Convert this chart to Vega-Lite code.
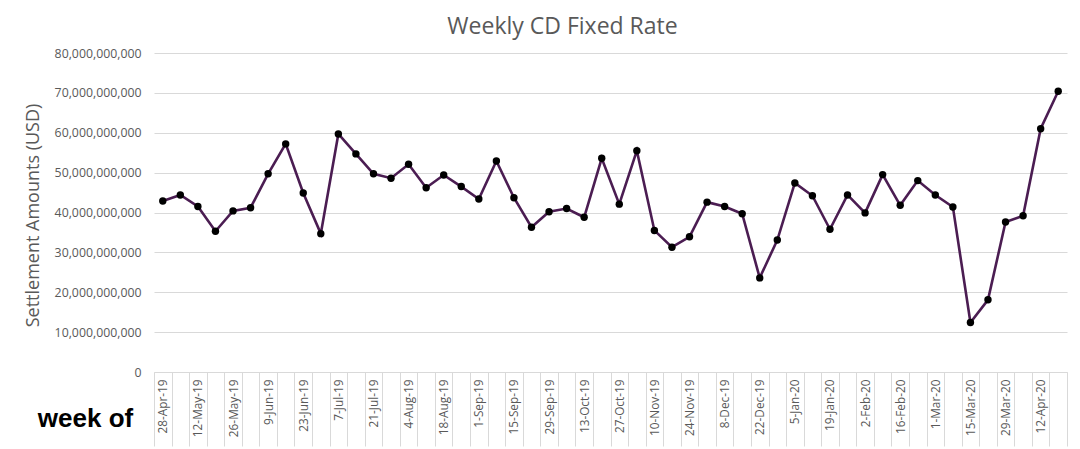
{
  "$schema": "https://vega.github.io/schema/vega-lite/v6.json",
  "width": 913,
  "height": 319,
  "autosize": {"type": "none"},
  "padding": {"left": 154, "top": 53, "right": 13, "bottom": 77},
  "background": "white",
  "title": {
    "text": "Weekly CD Fixed Rate",
    "font": "Open Sans",
    "fontSize": 23,
    "fontWeight": "normal",
    "color": "#595959",
    "frame": "group",
    "anchor": "middle",
    "dx": -48,
    "offset": 8
  },
  "data": {
    "values": [
      {"week": "28-Apr-19", "amount": 42900000000},
      {"week": "5-May-19", "amount": 44400000000},
      {"week": "12-May-19", "amount": 41500000000},
      {"week": "19-May-19", "amount": 35300000000},
      {"week": "26-May-19", "amount": 40400000000},
      {"week": "2-Jun-19", "amount": 41200000000},
      {"week": "9-Jun-19", "amount": 49700000000},
      {"week": "16-Jun-19", "amount": 57200000000},
      {"week": "23-Jun-19", "amount": 44900000000},
      {"week": "30-Jun-19", "amount": 34700000000},
      {"week": "7-Jul-19", "amount": 59700000000},
      {"week": "14-Jul-19", "amount": 54700000000},
      {"week": "21-Jul-19", "amount": 49700000000},
      {"week": "28-Jul-19", "amount": 48600000000},
      {"week": "4-Aug-19", "amount": 52100000000},
      {"week": "11-Aug-19", "amount": 46200000000},
      {"week": "18-Aug-19", "amount": 49400000000},
      {"week": "25-Aug-19", "amount": 46500000000},
      {"week": "1-Sep-19", "amount": 43400000000},
      {"week": "8-Sep-19", "amount": 52900000000},
      {"week": "15-Sep-19", "amount": 43700000000},
      {"week": "22-Sep-19", "amount": 36300000000},
      {"week": "29-Sep-19", "amount": 40200000000},
      {"week": "6-Oct-19", "amount": 41000000000},
      {"week": "13-Oct-19", "amount": 38800000000},
      {"week": "20-Oct-19", "amount": 53600000000},
      {"week": "27-Oct-19", "amount": 42100000000},
      {"week": "3-Nov-19", "amount": 55500000000},
      {"week": "10-Nov-19", "amount": 35500000000},
      {"week": "17-Nov-19", "amount": 31300000000},
      {"week": "24-Nov-19", "amount": 33900000000},
      {"week": "1-Dec-19", "amount": 42600000000},
      {"week": "8-Dec-19", "amount": 41500000000},
      {"week": "15-Dec-19", "amount": 39700000000},
      {"week": "22-Dec-19", "amount": 23600000000},
      {"week": "29-Dec-19", "amount": 33100000000},
      {"week": "5-Jan-20", "amount": 47400000000},
      {"week": "12-Jan-20", "amount": 44200000000},
      {"week": "19-Jan-20", "amount": 35800000000},
      {"week": "26-Jan-20", "amount": 44400000000},
      {"week": "2-Feb-20", "amount": 39900000000},
      {"week": "9-Feb-20", "amount": 49500000000},
      {"week": "16-Feb-20", "amount": 41800000000},
      {"week": "23-Feb-20", "amount": 48000000000},
      {"week": "1-Mar-20", "amount": 44400000000},
      {"week": "8-Mar-20", "amount": 41400000000},
      {"week": "15-Mar-20", "amount": 12400000000},
      {"week": "22-Mar-20", "amount": 18100000000},
      {"week": "29-Mar-20", "amount": 37600000000},
      {"week": "5-Apr-20", "amount": 39200000000},
      {"week": "12-Apr-20", "amount": 61000000000},
      {"week": "19-Apr-20", "amount": 70400000000}
    ]
  },
  "mark": {
    "type": "line",
    "color": "#4b1d52",
    "strokeWidth": 2.6,
    "point": {"filled": true, "color": "#000000", "size": 55, "opacity": 1}
  },
  "encoding": {
    "x": {
      "field": "week",
      "type": "nominal",
      "sort": null,
      "scale": {"type": "band", "paddingInner": 0, "paddingOuter": 0},
      "axis": {
        "title": "week of",
        "titleFont": "Liberation Sans",
        "titleFontSize": 26,
        "titleFontWeight": "bold",
        "titleColor": "#000000",
        "titleAngle": 0,
        "titleAlign": "center",
        "titleBaseline": "middle",
        "titleX": -69,
        "titleY": 46,
        "labelAngle": -90,
        "labelFont": "Open Sans",
        "labelFontSize": 11.8,
        "labelColor": "#595959",
        "labelOverlap": false,
        "labelExpr": "round(datum.index * 51) % 2 == 0 ? datum.label : ''",
        "labelPadding": -67,
        "ticks": true,
        "tickBand": "extent",
        "tickSize": 74,
        "tickColor": "#d9d9d9",
        "tickWidth": 1,
        "domain": true,
        "domainColor": "#d9d9d9",
        "domainWidth": 1,
        "grid": false
      }
    },
    "y": {
      "field": "amount",
      "type": "quantitative",
      "scale": {"domain": [0, 80000000000], "nice": false},
      "axis": {
        "title": "Settlement Amounts (USD)",
        "titleFont": "Open Sans",
        "titleFontSize": 18,
        "titleFontWeight": "normal",
        "titleColor": "#595959",
        "titleBaseline": "middle",
        "titleX": -121,
        "titleY": 162,
        "values": [0, 10000000000, 20000000000, 30000000000, 40000000000, 50000000000, 60000000000, 70000000000, 80000000000],
        "format": ",d",
        "labelFont": "Open Sans",
        "labelFontSize": 12.3,
        "labelColor": "#595959",
        "labelPadding": 13,
        "ticks": false,
        "domain": false,
        "grid": true,
        "gridColor": "#d9d9d9",
        "gridWidth": 1
      }
    }
  },
  "config": {
    "view": {"stroke": null}
  }
}
